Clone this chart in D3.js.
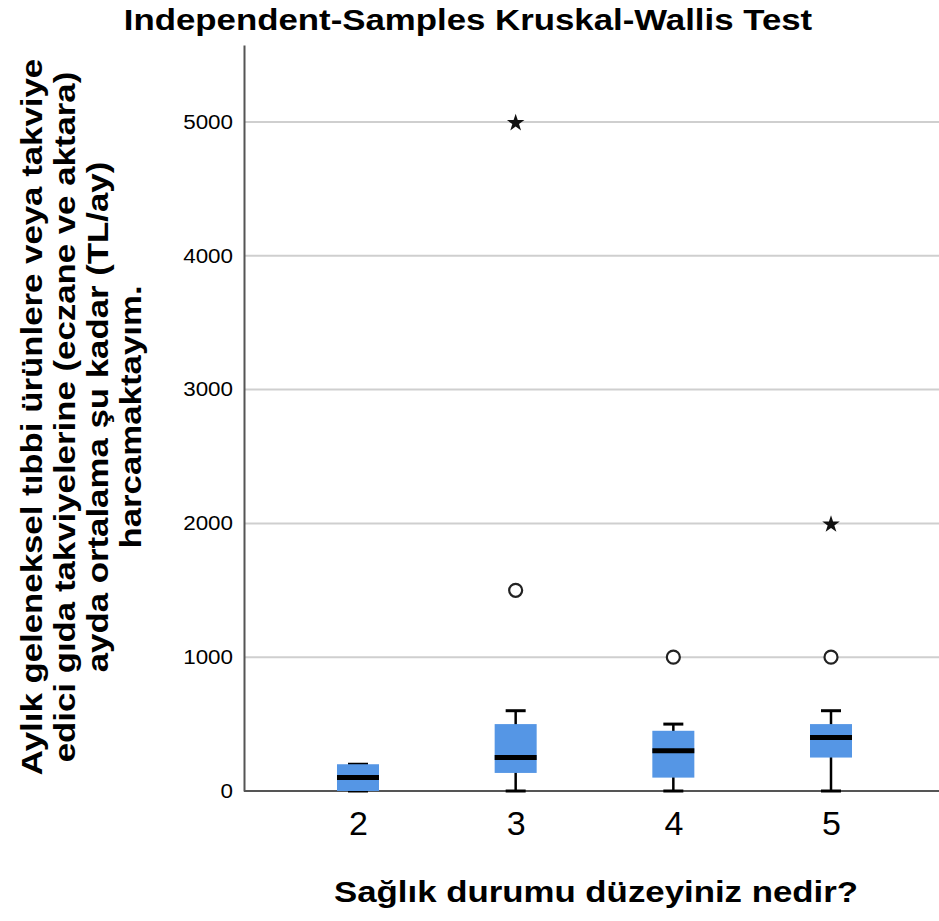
<!DOCTYPE html>
<meta charset="utf-8">
<style>
  body { margin: 0; background: white; }
  text { font-family: "Liberation Sans", Arial, sans-serif; fill: #000; }
</style>
<body>
<div id="chart"></div>
<script src="https://d3js.org/d3.v7.min.js"></script>
<script>
// health level groups and their box-plot summaries (TL/month)
const groups = ["2", "3", "4", "5"];
const mins    = [0, 0, 0, 0];
const q1s     = [0, 135, 100, 250];
const medians = [100, 250, 300, 400];
const q3s     = [200, 500, 450, 500];
const maxs    = [200, 600, 500, 600];
// outliers: circles are mild, stars are extreme
const circleOutliers = [{g: "3", v: 1500}, {g: "4", v: 1000}, {g: "5", v: 1000}];
const starOutliers   = [{g: "3", v: 5000}, {g: "5", v: 2000}];
const yTicks = [0, 1000, 2000, 3000, 4000, 5000];

const title = "Independent-Samples Kruskal-Wallis Test";
const xTitle = "Sağlık durumu düzeyiniz nedir?";
const yTitle = ["Aylık geleneksel tıbbi ürünlere veya takviye",
                "edici gıda takviyelerine (eczane ve aktara)",
                "ayda ortalama şu kadar (TL/ay)",
                "harcamaktayım."];

const width = 939, height = 921;
const plotLeft = 244, plotRight = 945, plotTop = 45, plotBottom = 791;
const boxW = 42, capW = 20;
const boxColor = "#5596e5";
const stretch = 1.16; // SPSS text is drawn a bit wide

// widen text horizontally like the original export
function widen(sel, k) {
  sel.each(function() {
    const w = this.getComputedTextLength();
    d3.select(this).attr("textLength", w * k).attr("lengthAdjust", "spacingAndGlyphs");
  });
}

const svg = d3.select("#chart").append("svg")
    .attr("width", width)
    .attr("height", height);

const x = d3.scalePoint().domain(groups).range([plotLeft, plotRight]).padding(0.723);
const y = d3.scaleLinear().domain([0, 5575]).range([plotBottom, plotTop]);

// gridlines
svg.append("g")
  .selectAll("line")
  .data(yTicks.filter(d => d > 0))
  .join("line")
    .attr("x1", plotLeft).attr("x2", width)
    .attr("y1", d => y(d)).attr("y2", d => y(d))
    .attr("stroke", "#cfcfcf")
    .attr("stroke-width", 2);

// y axis
const yAxis = svg.append("g")
    .attr("transform", `translate(${plotLeft},0)`)
    .call(d3.axisLeft(y).tickValues(yTicks).tickFormat(d3.format("d")).tickSize(0).tickPadding(11));
yAxis.select(".domain").attr("stroke", "#555").attr("stroke-width", 2);
yAxis.selectAll("text").attr("font-size", 20).attr("fill", "#222")
    .style("font-family", "Liberation Sans, Arial, sans-serif")
    .call(widen, 1.12);

// x axis
const xAxis = svg.append("g")
    .attr("transform", `translate(0,${plotBottom})`)
    .call(d3.axisBottom(x).tickSize(0).tickPadding(20));
xAxis.select(".domain").attr("d", `M${plotLeft},0H${width}`)
    .attr("stroke", "#555").attr("stroke-width", 2);
xAxis.selectAll("text").attr("font-size", 34).attr("fill", "#222")
    .style("font-family", "Liberation Sans, Arial, sans-serif");

const boxes = groups.map((g, i) => ({g, min: mins[i], q1: q1s[i], med: medians[i], q3: q3s[i], max: maxs[i]}));

const bx = svg.append("g").selectAll("g").data(boxes).join("g");

// whiskers
bx.append("line")
    .attr("x1", d => x(d.g)).attr("x2", d => x(d.g))
    .attr("y1", d => y(d.max)).attr("y2", d => y(d.min))
    .attr("stroke", "#000").attr("stroke-width", 2.5);
bx.selectAll(".cap")
  .data(d => [{g: d.g, v: d.max}, {g: d.g, v: d.min}])
  .join("line")
    .attr("class", "cap")
    .attr("x1", d => x(d.g) - capW / 2).attr("x2", d => x(d.g) + capW / 2)
    .attr("y1", d => y(d.v)).attr("y2", d => y(d.v))
    .attr("stroke", "#000").attr("stroke-width", 3);

// box
bx.append("rect")
    .attr("x", d => x(d.g) - boxW / 2)
    .attr("width", boxW)
    .attr("y", d => y(d.q3))
    .attr("height", d => y(d.q1) - y(d.q3))
    .attr("fill", boxColor);

// median
bx.append("line")
    .attr("x1", d => x(d.g) - boxW / 2).attr("x2", d => x(d.g) + boxW / 2)
    .attr("y1", d => y(d.med)).attr("y2", d => y(d.med))
    .attr("stroke", "#000").attr("stroke-width", 5);

// outliers
svg.append("g").selectAll("circle")
  .data(circleOutliers)
  .join("circle")
    .attr("cx", d => x(d.g)).attr("cy", d => y(d.v))
    .attr("r", 6.5)
    .attr("fill", "white")
    .attr("stroke", "#222")
    .attr("stroke-width", 2.2);

svg.append("g").selectAll("path")
  .data(starOutliers)
  .join("path")
    .attr("d", d3.symbol().type(d3.symbolStar).size(95))
    .attr("transform", d => `translate(${x(d.g)},${y(d.v) + 1})`)
    .attr("fill", "#111");

// titles
svg.append("text")
    .attr("x", 468).attr("y", 30)
    .attr("text-anchor", "middle")
    .attr("font-size", 30).attr("font-weight", "bold")
    .text(title)
    .call(widen, stretch);

svg.append("text")
    .attr("x", 596).attr("y", 902)
    .attr("text-anchor", "middle")
    .attr("font-size", 30).attr("font-weight", "bold")
    .text(xTitle)
    .call(widen, stretch);

svg.append("g")
    .attr("transform", "translate(0,417) rotate(-90)")
  .selectAll("text")
  .data(yTitle)
  .join("text")
    .attr("x", 0)
    .attr("y", (d, i) => 42 + i * 33)
    .attr("text-anchor", "middle")
    .attr("font-size", 30).attr("font-weight", "bold")
    .text(d => d)
    .call(widen, stretch);
</script>
</body>
